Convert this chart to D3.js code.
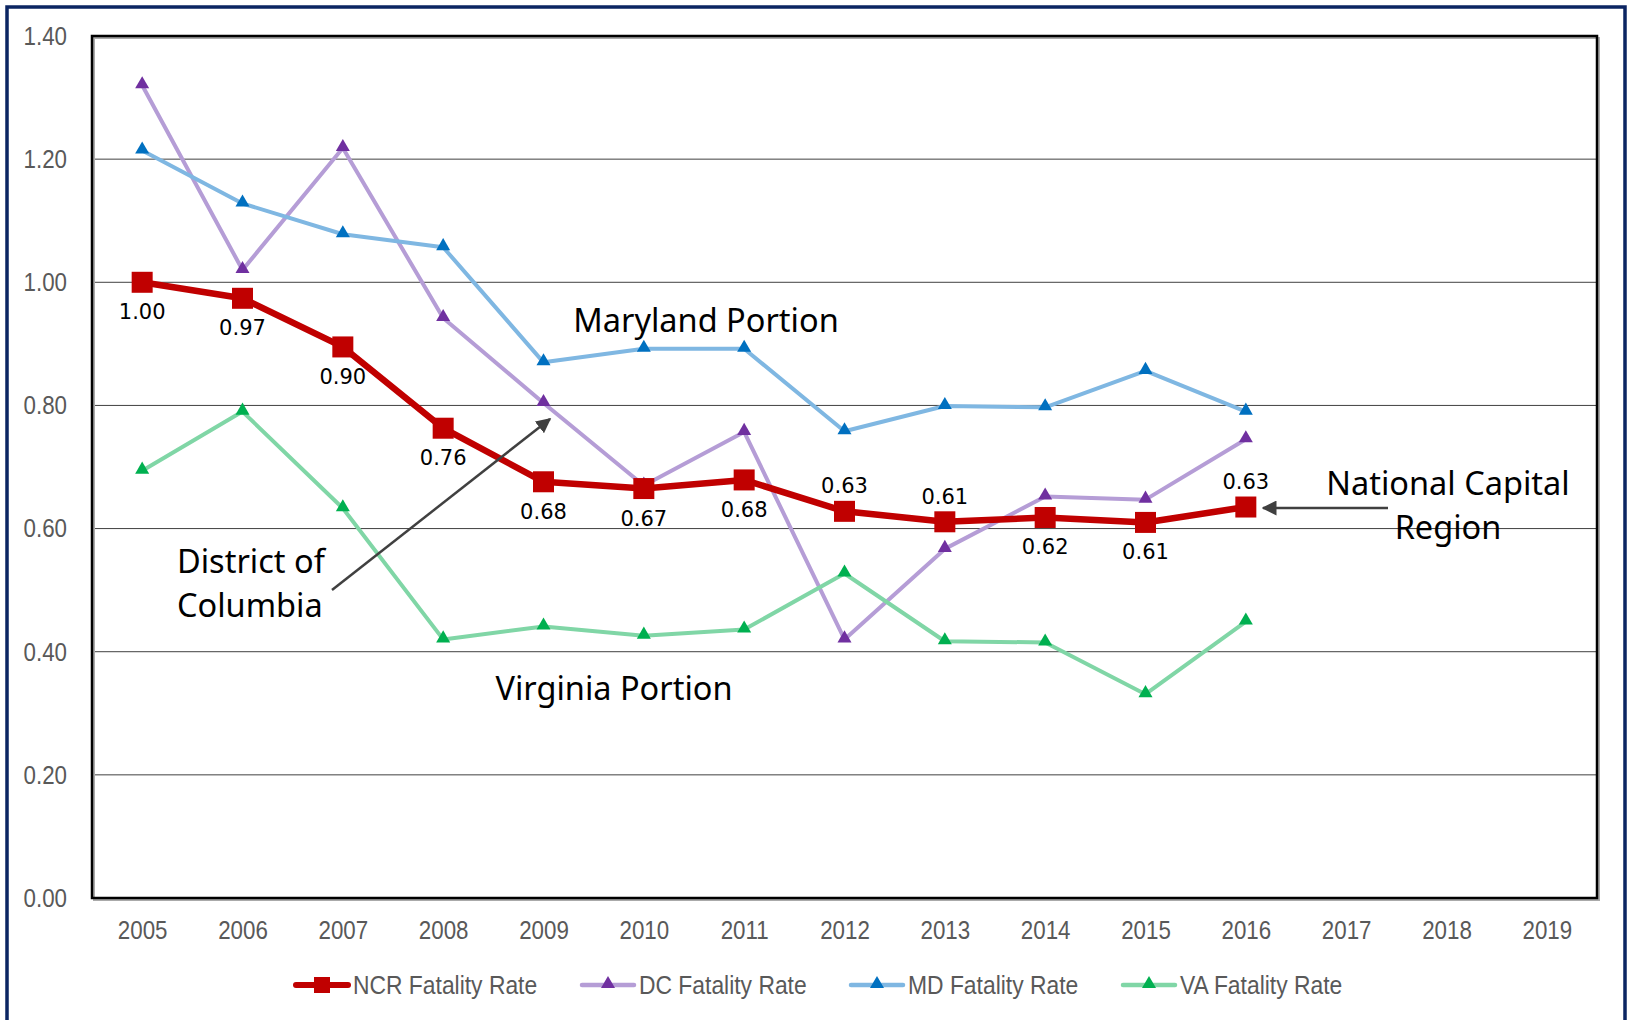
<!DOCTYPE html>
<html>
<head>
<meta charset="utf-8">
<script src="https://cdn.jsdelivr.net/npm/d3@7"></script>
<style>
  body { margin: 0; background: #fff; }
  svg { display: block; }
  .narrow { transform-box: fill-box; transform: scaleX(0.86); }
</style>
</head>
<body>
<div id="chart"></div>
<script>
// data
var years = ['2005','2006','2007','2008','2009','2010','2011','2012','2013','2014','2015','2016','2017','2018','2019'];
var yTicks = [0, 0.2, 0.4, 0.6, 0.8, 1.0, 1.2, 1.4];
var ncrRate = [1.00, 0.974, 0.895, 0.763, 0.676, 0.665, 0.679, 0.628, 0.611, 0.618, 0.610, 0.635];
var ncrLabels = ['1.00','0.97','0.90','0.76','0.68','0.67','0.68','0.63','0.61','0.62','0.61','0.63'];
var ncrLabelAbove = [false,false,false,false,false,false,false,true,true,false,false,true];
var dcRate = [1.320, 1.020, 1.218, 0.942, 0.804, 0.670, 0.757, 0.420, 0.567, 0.652, 0.647, 0.745];
var mdRate = [1.214, 1.128, 1.078, 1.057, 0.870, 0.892, 0.892, 0.758, 0.799, 0.797, 0.856, 0.790];
var vaRate = [0.694, 0.790, 0.633, 0.420, 0.441, 0.426, 0.436, 0.527, 0.417, 0.415, 0.331, 0.449];
var seriesNames = ['NCR Fatality Rate', 'DC Fatality Rate', 'MD Fatality Rate', 'VA Fatality Rate'];

var W = 1628, H = 1020;
var margin = {left: 92, right: 1597, top: 36, bottom: 898};

var svg = d3.select('#chart').append('svg')
	.attr('width', W).attr('height', H);

var defs = svg.append('defs');
defs.append('marker')
	.attr('id', 'arrow')
	.attr('viewBox', '0 0 10 10')
	.attr('refX', 9).attr('refY', 5)
	.attr('markerWidth', 6).attr('markerHeight', 6)
	.attr('markerUnits', 'strokeWidth')
	.attr('orient', 'auto')
	.append('path')
	.attr('d', 'M0,0 L10,5 L0,10 Z')
	.attr('fill', '#404040');

// outer frame (bottom edge is cut off in the original)
svg.append('path')
	.attr('d', 'M7,' + H + ' L7,7 L1625,7 L1625,' + H)
	.attr('fill', 'none')
	.attr('stroke', '#0b2562')
	.attr('stroke-width', 3.5);

var x = d3.scalePoint()
	.domain(years)
	.range([margin.left, margin.right])
	.padding(0.5);

var y = d3.scaleLinear()
	.domain([0, 1.4])
	.range([margin.bottom, margin.top]);

// gridlines
svg.append('g')
	.selectAll('line')
	.data(yTicks.slice(1, -1))
	.enter().append('line')
	.attr('x1', margin.left).attr('x2', margin.right)
	.attr('y1', function(d) { return y(d); })
	.attr('y2', function(d) { return y(d); })
	.attr('stroke', '#404040')
	.attr('stroke-width', 1);

// plot frame with a soft shadow
svg.append('rect')
	.attr('x', margin.left + 2).attr('y', margin.top + 2)
	.attr('width', margin.right - margin.left).attr('height', margin.bottom - margin.top)
	.attr('fill', 'none').attr('stroke', '#aaa').attr('stroke-width', 2);
svg.append('rect')
	.attr('x', margin.left).attr('y', margin.top)
	.attr('width', margin.right - margin.left).attr('height', margin.bottom - margin.top)
	.attr('fill', 'none').attr('stroke', '#000').attr('stroke-width', 2.5);

// axes (labels only)
var yAxis = svg.append('g')
	.attr('transform', 'translate(' + margin.left + ',0)')
	.call(d3.axisLeft(y).tickValues(yTicks).tickFormat(d3.format('.2f')).tickSize(0).tickPadding(25));
var xAxis = svg.append('g')
	.attr('transform', 'translate(0,' + margin.bottom + ')')
	.call(d3.axisBottom(x).tickSize(0).tickPadding(23));
[yAxis, xAxis].forEach(function(a) {
	a.select('.domain').remove();
	a.selectAll('text')
		.attr('fill', '#595959')
		.attr('class', 'narrow')
		.style('font-family', '"Liberation Sans", Arial, sans-serif')
		.style('font-size', '26px');
});
yAxis.selectAll('text').style('transform-origin', 'right center');
xAxis.selectAll('text').style('transform-origin', 'center');

var line = d3.line()
	.x(function(d, i) { return x(years[i]); })
	.y(function(d) { return y(d); });

var triSeries = [
	{ data: dcRate, line: '#b59dd6', mark: '#7030a0' },
	{ data: mdRate, line: '#7fb7e2', mark: '#0070c0' },
	{ data: vaRate, line: '#80d6a6', mark: '#00b050' }
];

var tri = d3.symbol().type(d3.symbolTriangle).size(85);

triSeries.forEach(function(s) {
	svg.append('path')
		.datum(s.data)
		.attr('d', line)
		.attr('fill', 'none')
		.attr('stroke', s.line)
		.attr('stroke-width', 4)
		.attr('stroke-linejoin', 'round');
	svg.append('g')
		.selectAll('path')
		.data(s.data)
		.enter().append('path')
		.attr('d', tri)
		.attr('transform', function(d, i) { return 'translate(' + x(years[i]) + ',' + (y(d) - 1) + ')'; })
		.attr('fill', s.mark);
});

// NCR series
svg.append('path')
	.datum(ncrRate)
	.attr('d', line)
	.attr('fill', 'none')
	.attr('stroke', '#c00000')
	.attr('stroke-width', 6.5)
	.attr('stroke-linejoin', 'round');
svg.append('g')
	.selectAll('rect')
	.data(ncrRate)
	.enter().append('rect')
	.attr('x', function(d, i) { return x(years[i]) - 10.5; })
	.attr('y', function(d) { return y(d) - 10.5; })
	.attr('width', 21).attr('height', 21)
	.attr('fill', '#c00000');
svg.append('g')
	.selectAll('text')
	.data(ncrRate)
	.enter().append('text')
	.attr('x', function(d, i) { return x(years[i]); })
	.attr('y', function(d, i) { return ncrLabelAbove[i] ? y(d) - 18 : y(d) + 37; })
	.attr('text-anchor', 'middle')
	.style('font-family', '"DejaVu Sans", Verdana, sans-serif')
	.style('font-size', '21px')
	.attr('fill', '#000')
	.text(function(d, i) { return ncrLabels[i]; });

// annotations
var annFont = '"Noto Sans", "Open Sans", sans-serif';
function note(tx, ty, lines, anchor) {
	var t = svg.append('text')
		.attr('x', tx).attr('y', ty)
		.attr('text-anchor', anchor)
		.style('font-family', annFont)
		.style('font-size', '32.5px')
		.attr('fill', '#000');
	lines.forEach(function(l, i) {
		t.append('tspan').attr('x', tx).attr('dy', i ? 44 : 0).text(l);
	});
}
note(706, 332, ['Maryland Portion'], 'middle');
note(614, 700, ['Virginia Portion'], 'middle');
note(177, 573, ['District of', 'Columbia'], 'start');
note(1448, 495, ['National Capital', 'Region'], 'middle');

svg.append('line')
	.attr('x1', 332).attr('y1', 590).attr('x2', 550).attr('y2', 419)
	.attr('stroke', '#404040').attr('stroke-width', 2.5)
	.attr('marker-end', 'url(#arrow)');
svg.append('line')
	.attr('x1', 1388).attr('y1', 508).attr('x2', 1263).attr('y2', 508)
	.attr('stroke', '#404040').attr('stroke-width', 2.5)
	.attr('marker-end', 'url(#arrow)');

// legend
var legendX = [296, 582, 851, 1123];
var legendCols = [
	{ line: '#c00000', mark: '#c00000', square: true },
	{ line: '#b59dd6', mark: '#7030a0' },
	{ line: '#7fb7e2', mark: '#0070c0' },
	{ line: '#80d6a6', mark: '#00b050' }
];
var legendY = 985;
var leg = svg.append('g');
seriesNames.forEach(function(name, i) {
	var lx = legendX[i], c = legendCols[i];
	leg.append('line')
		.attr('x1', lx).attr('x2', lx + 52)
		.attr('y1', legendY).attr('y2', legendY)
		.attr('stroke', c.line)
		.attr('stroke-width', c.square ? 6 : 4.5)
		.attr('stroke-linecap', 'round');
	if (c.square) {
		leg.append('rect')
			.attr('x', lx + 26 - 8).attr('y', legendY - 8)
			.attr('width', 16).attr('height', 16)
			.attr('fill', c.mark);
	} else {
		leg.append('path')
			.attr('d', tri)
			.attr('transform', 'translate(' + (lx + 26) + ',' + (legendY - 1) + ')')
			.attr('fill', c.mark);
	}
	leg.append('text')
		.attr('x', lx + 57).attr('y', legendY + 9)
		.attr('class', 'narrow')
		.style('transform', 'scaleX(0.88)')
		.style('transform-origin', 'left center')
		.style('font-family', '"Liberation Sans", Arial, sans-serif')
		.style('font-size', '26px')
		.attr('fill', '#595959')
		.text(name);
});
</script>
</body>
</html>
